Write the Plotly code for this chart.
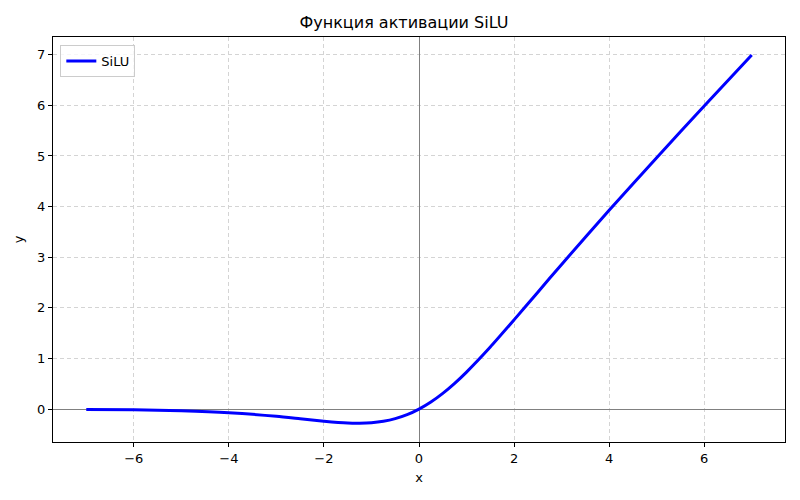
import plotly.graph_objects as go

# points
x_vals = [-7, -6, -5, -4, -3, -2.5, -2, -1.5, -1.25, -1, -0.75, -0.5, -0.25, 0,
          0.25, 0.5, 0.75, 1, 1.5, 2, 2.5, 3, 4, 5, 6, 7]
y_vals = [-0.006, -0.015, -0.034, -0.072, -0.142, -0.19, -0.238, -0.274, -0.278, -0.269, -0.241, -0.189, -0.11, 0,
          0.14, 0.311, 0.509, 0.731, 1.226, 1.762, 2.31, 2.858, 3.928, 4.967, 5.985, 6.994]

x_ticks = [-6, -4, -2, 0, 2, 4, 6]
y_ticks = [0, 1, 2, 3, 4, 5, 6, 7]

fig = go.Figure()

fig.add_trace(go.Scatter(
    x=x_vals, y=y_vals,
    mode='lines',
    line=dict(color='blue', width=3, shape='spline', smoothing=0.6),
    name='SiLU'
))

axis_style = dict(
    showline=True, linecolor='black', linewidth=1, mirror=True,
    ticks='outside', ticklen=4, tickcolor='black',
    showgrid=True, gridcolor='#d4d4d4', griddash='4px,3px', gridwidth=1,
    zeroline=True, zerolinecolor='#808080', zerolinewidth=1,
    tickfont=dict(size=13, color='black'),
    automargin=False,
)

# page body has an 8px margin, so the figure is 8px smaller each way
fig.update_layout(
    width=792, height=492,
    paper_bgcolor='white',
    plot_bgcolor='white',
    font=dict(family='DejaVu Sans', color='black', size=13),
    title=dict(text='Функция активации SiLU', x=0.5, xanchor='center',
               y=0.971, yanchor='middle', font=dict(size=16)),
    margin=dict(l=45, r=15, t=29, b=58),
    showlegend=True,
    legend=dict(x=0.01, y=0.98, xanchor='left', yanchor='top',
                bgcolor='rgba(255,255,255,0.8)', bordercolor='#cccccc', borderwidth=1,
                font=dict(size=13)),
    xaxis=dict(axis_style, range=[-7.7, 7.7], tickvals=x_ticks,
               ticktext=[str(t).replace('-', '−') for t in x_ticks],
               title=dict(text='x', font=dict(size=13), standoff=8)),
    yaxis=dict(axis_style, range=[-0.65, 7.35], tickvals=y_ticks,
               title=dict(text='y', font=dict(size=13), standoff=10)),
)

fig.write_html("out.html")
